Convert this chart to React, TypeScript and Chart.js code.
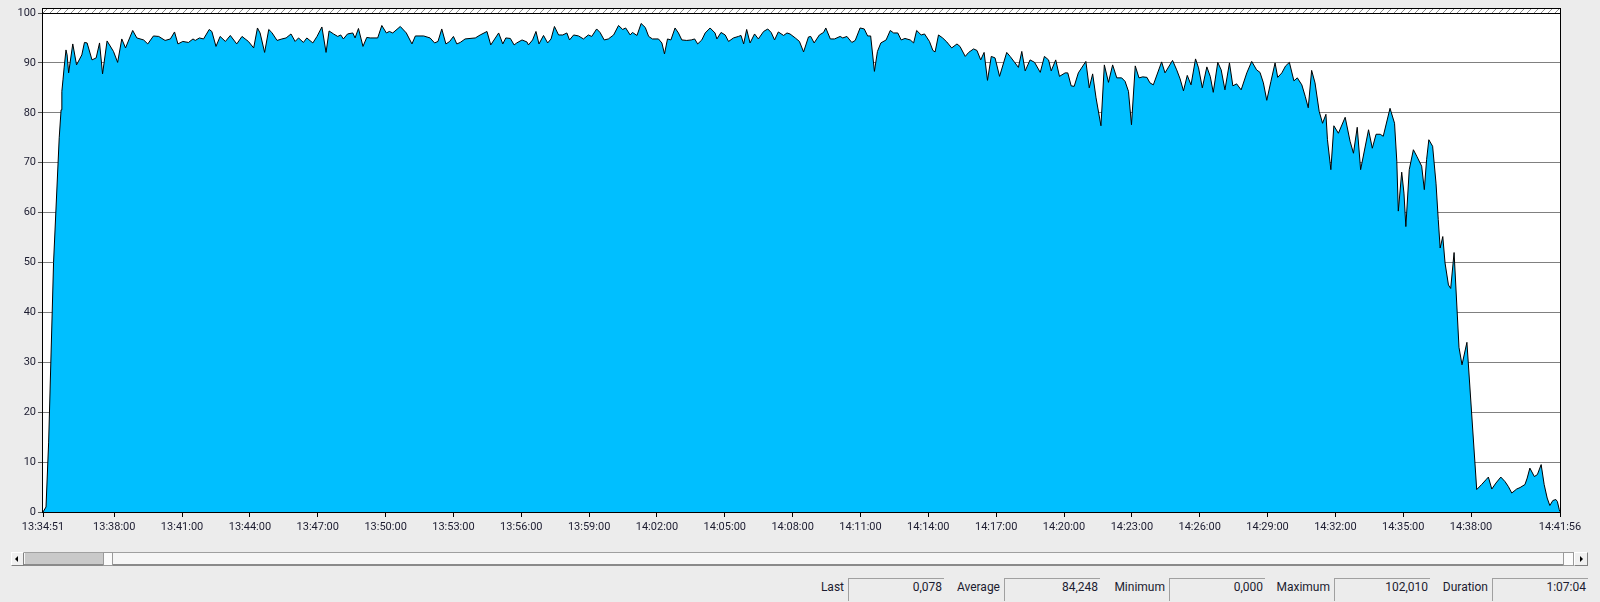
import React, { useEffect, useRef } from "react";
import { Chart, registerables } from "chart.js";

Chart.register(...registerables);

// ---- data -------------------------------------------------------------
const START_CLOCK_SECONDS = 13 * 3600 + 34 * 60 + 51; // 13:34:51
const END_OFFSET = 4025; // 14:41:56

// seconds since 13:34:51
const sampleSeconds = [
  0, 8, 15, 28, 43, 48, 50, 53, 56, 61, 64, 68, 79, 89, 103, 110, 117, 130, 141, 150, 158, 170, 187, 198, 209, 219,
  238, 249, 267, 278, 293, 307, 324, 338, 349, 358, 371, 386, 398, 404, 415, 426, 441, 448, 459, 470, 484, 497, 514,
  528, 545, 559, 569, 576, 588, 599, 607, 621, 634, 645, 658, 669, 678, 691, 700, 716, 727, 740, 751, 759, 771, 782,
  790, 797, 808, 822, 828, 837, 849, 859, 868, 888, 899, 911, 919, 928, 948, 964, 979,
  988, 1010, 1027, 1039, 1048, 1058, 1069, 1079, 1089, 1098, 1107, 1120, 1133, 1147, 1160, 1178, 1188, 1209, 1220,
  1228, 1240, 1250, 1257, 1271, 1284, 1288, 1299, 1308, 1316, 1328, 1339, 1348, 1357, 1368, 1379, 1390, 1397, 1408,
  1421, 1434, 1447, 1456, 1469, 1478, 1489, 1500, 1514, 1527, 1538, 1546, 1558, 1564, 1576, 1587, 1598, 1607, 1617,
  1633, 1642, 1649, 1657, 1666, 1677, 1686, 1695, 1708, 1720, 1729, 1737, 1748, 1757, 1770, 1783, 1788, 1799, 1810,
  1819, 1832, 1845, 1852, 1859, 1867, 1876, 1888, 1898, 1912, 1923, 1932, 1941, 1951, 1965, 1974,
  1982, 1996, 2007, 2018, 2031, 2037, 2046, 2060, 2071, 2077, 2089, 2100, 2115, 2122, 2133, 2146, 2155, 2168, 2179,
  2188, 2196, 2206, 2214, 2223, 2237, 2248, 2257, 2268, 2277, 2287, 2301, 2310, 2318, 2330, 2339, 2352, 2361, 2367,
  2376, 2387, 2398, 2411, 2425, 2433, 2447, 2456, 2469, 2478, 2488, 2497, 2506, 2516, 2526, 2538, 2557, 2566, 2579,
  2588, 2597, 2606, 2619, 2631, 2646, 2657, 2668, 2675, 2687, 2697, 2712, 2719, 2728, 2736, 2747, 2767, 2776, 2785,
  2794, 2807, 2816, 2827, 2838, 2849, 2862, 2871, 2880, 2888, 2898, 2908, 2918, 2929, 2937, 2946, 2968,
  2977, 2997, 3008, 3017, 3026, 3036, 3046, 3058, 3066, 3076, 3088, 3097, 3105, 3117, 3126, 3136, 3148, 3157, 3167,
  3179, 3194, 3207, 3220, 3229, 3238, 3247, 3258, 3269, 3276, 3287, 3297, 3307, 3319, 3328, 3340, 3349, 3357, 3366,
  3375, 3386, 3395, 3404, 3408, 3417,
  3425, 3437, 3455, 3468, 3477, 3487, 3496, 3517, 3527, 3537, 3548, 3556, 3574, 3586, 3592, 3596, 3605, 3611, 3616,
  3625, 3636, 3645, 3658, 3665, 3671, 3677, 3687, 3696, 3702, 3707, 3714, 3720, 3729,
  3735, 3744, 3757, 3765, 3778, 3804,
  3817, 3829, 3835, 3844, 3855, 3868, 3879, 3888, 3897, 3910, 3919, 3932, 3938, 3945, 3957, 3965, 3975, 3983, 3991,
  3998, 4006, 4014, 4018, 4023, 4025,
];

// % value of each sample
const cpuValues = [
  0, 1, 14, 50, 75, 80.6, 84.3, 86.6, 89, 92.6, 91.6, 88, 93.8, 89.6, 91.6, 94.1, 94, 90.6, 91, 94, 87.8, 94.4, 92.3,
  90.1, 94.8, 93, 96.5, 95, 94.6, 93.8, 95.4, 95.3, 94.5, 94.8, 96.2, 93.8, 94.3, 94.1, 94.8, 94.5, 95, 94.8, 96.7,
  96.3, 93.3, 95.3, 94.3, 95.5, 93.8, 95.3, 94.3, 93, 97, 96, 92.1, 96.7, 96.1, 94.5, 94.8, 95, 95.8, 94.3, 95, 94.1,
  95, 94, 95.3, 97.2, 92.1, 96.4, 95.8, 95.3, 95.6, 94.8, 95.8, 96, 95, 96.9, 93.3, 95.1, 95, 95, 97.5, 96, 96.3, 96,
  97.3, 96, 93.8,
  95.4, 95.4, 95, 94, 94.3, 96.8, 93.8, 94.3, 95.3, 93.8, 94.1, 94.8, 94.9, 95, 95.6, 96.3, 93.6, 96, 93.8, 95, 94.9,
  93.6, 94, 94.6, 94.2, 93.6, 94.6, 96.3, 93.8, 95.5, 94, 94.8, 97.3, 95.6, 95.6, 96, 94.6, 95.6, 95.4, 94.8, 95.6,
  95.3, 96.8, 96.1, 94.6, 94.8, 95.6, 97.5, 96.7, 97, 95.6, 96.1, 95.5, 97.9, 97.1, 95.3, 94.8, 94.8, 94, 91.8, 94.8,
  94.6, 97, 96, 94.6, 94.5, 94.6, 94.8, 93.8, 94.6, 96, 97, 96, 94.8, 96.1, 95.6, 94.3, 95, 95.3, 95.5, 93.8, 96.7,
  94, 95.8, 94.8, 96.3, 96.8, 96.1, 94.6, 96.2, 95.5, 96,
  95.8, 95, 94.3, 92.2, 95.2, 95.3, 94, 95.6, 96.1, 97, 94.8, 94.8, 95.3, 95, 95.3, 94.1, 94.5, 97, 96.8, 95.4, 95.4,
  88.3, 92.3, 94, 94.6, 96.5, 96, 96, 94.6, 94.9, 94.6, 94, 96.5, 95.6, 95.8, 94.3, 92.5, 92.2, 95.6, 95, 94.2, 93,
  93.8, 93.3, 91.3, 92.1, 92.8, 92.5, 90.6, 92.1, 86.5, 91.3, 91, 87.3, 92.1, 91.3, 90, 89.1, 92.3, 88.4, 90.6, 90.1,
  88.1, 91.3, 90.6, 88.4, 90.6, 87.3, 88, 88, 85.4, 85.3, 88, 90.3, 85, 87.8, 83, 77.4, 89.6, 86.1, 89.6, 87, 87,
  86.3, 84.3, 77.6, 89.4, 87, 87.2, 87.1, 86, 85.6, 90.2,
  88, 90.5, 88.6, 86.8, 84.4, 87.5, 85.6, 90.8, 89, 85, 89.2, 87.3, 84.1, 90.1, 88.6, 84.6, 90, 85.4, 85.8, 84.6, 88,
  90.3, 88.6, 88.1, 86, 82.5, 86.3, 90, 87.1, 88, 89.4, 90.1, 86.4, 87, 85.6, 83.3, 81, 88.5, 86, 80.3, 77.9, 79.7,
  74.6, 68.6,
  77.4, 75.9, 79.1, 74.3, 71.9, 77.1, 68.6, 76.6, 72.9, 75.7, 75.7, 75.3, 80.9, 77.9, 70.3, 60.3, 68.1, 63.9, 57.2,
  68.6, 72.6, 71.3, 69.3, 64.6, 70.6, 74.6, 73.3, 65.9, 58.6, 52.9, 55.2, 49.9, 45.5,
  44.8, 52, 33, 29.5, 34, 4.5,
  5.5, 6.5, 7, 4.6, 5.8, 7, 6.1, 5.1, 3.8, 4.6, 4.9, 5.5, 6.8, 8.8, 7.1, 7.5, 9.5, 5.5, 2.8, 1.3, 2.3, 2.5, 2.1, 0.5,
  0.078,
];

// tick positions (seconds since start): start, every 3 min 13:38 .. 14:38, end
const xTickSeconds = [
  0, 189, 369, 549, 729, 909, 1089, 1269, 1449, 1629, 1809, 1989, 2169, 2349, 2529, 2709, 2889, 3069, 3249, 3429,
  3609, 3789, END_OFFSET,
];

const statLabels = ["Last", "Average", "Minimum", "Maximum", "Duration"];
const statValues = ["0,078", "84,248", "0,000", "102,010", "1:07:04"];
const statBoxLeft = [848, 1004, 1169, 1334, 1492];
const STAT_BOX_WIDTH = 96;

// ---- helpers ----------------------------------------------------------
const pad2 = (n: number) => String(n).padStart(2, "0");
const clockLabel = (offset: number) => {
  const s = Math.round(START_CLOCK_SECONDS + offset);
  const h = Math.floor(s / 3600);
  const m = Math.floor((s % 3600) / 60);
  const sec = s % 60;
  return `${pad2(h)}:${pad2(m)}:${pad2(sec)}`;
};

const FONT = "Roboto, 'Segoe UI', 'Noto Sans', sans-serif";
const TEXT_COLOR = "#1c1c30";

const framePlugin = {
  id: "perfmonFrame",
  beforeDraw(chart: any) {
    const { ctx, chartArea } = chart;
    const { left, top, right, bottom } = chartArea;
    ctx.save();
    ctx.fillStyle = "#ffffff";
    ctx.fillRect(left, top - 5, right - left, bottom - top + 5);
    // hatched band above plot
    ctx.beginPath();
    ctx.rect(left, top - 5, right - left, 5);
    ctx.clip();
    ctx.beginPath();
    ctx.strokeStyle = "#8c8c8c";
    ctx.lineWidth = 1;
    for (let x = left; x < right + 10; x += 7) {
      ctx.moveTo(x, top);
      ctx.lineTo(x + 5, top - 5);
    }
    ctx.stroke();
    ctx.restore();
  },
  afterDraw(chart: any) {
    const { ctx, chartArea } = chart;
    const { left, top, right, bottom } = chartArea;
    ctx.save();
    ctx.strokeStyle = "#000000";
    ctx.lineWidth = 1;
    const l = left - 0.5;
    const r = right + 0.5;
    const t = top - 4.5;
    const b = bottom + 0.5;
    ctx.strokeRect(l, t, r - l, b - t);
    ctx.beginPath();
    ctx.moveTo(l, top + 0.5);
    ctx.lineTo(r, top + 0.5);
    ctx.stroke();
    ctx.restore();
  },
};

export default function App() {
  const canvasRef = useRef<HTMLCanvasElement | null>(null);

  useEffect(() => {
    if (!canvasRef.current) return;
    const points = sampleSeconds.map((t, i) => ({ x: t, y: cpuValues[i] }));
    const chart = new Chart(canvasRef.current, {
      type: "line",
      data: {
        datasets: [
          {
            data: points,
            borderColor: "#000000",
            borderWidth: 1,
            backgroundColor: "#00bfff",
            fill: "origin",
            pointRadius: 0,
            tension: 0,
          },
        ],
      },
      options: {
        responsive: false,
        maintainAspectRatio: false,
        animation: false,
        devicePixelRatio: 1,
        layout: { padding: { top: 13, right: 40, bottom: 18, left: 0 } },
        plugins: {
          legend: { display: false },
          tooltip: { enabled: false },
        },
        scales: {
          x: {
            type: "linear",
            min: 0,
            max: END_OFFSET,
            afterBuildTicks: (scale: any) => {
              scale.ticks = xTickSeconds.map((v) => ({ value: v }));
            },
            afterFit: (scale: any) => {
              scale.height = 30;
              scale.paddingLeft = 0;
              scale.paddingRight = 0;
            },
            grid: {
              drawOnChartArea: false,
              drawTicks: true,
              tickLength: 5,
              color: "#000000",
              tickColor: "#000000",
            },
            border: { display: false },
            ticks: {
              autoSkip: false,
              maxRotation: 0,
              minRotation: 0,
              padding: 4,
              color: TEXT_COLOR,
              font: { family: FONT, size: 11 },
              callback: (v: any) => clockLabel(Number(v)),
            },
          },
          y: {
            min: 0,
            max: 100,
            afterFit: (scale: any) => {
              scale.width = 43;
              scale.paddingTop = 0;
              scale.paddingBottom = 0;
            },
            grid: {
              color: "#808080",
              lineWidth: 1,
              tickLength: 5,
              tickColor: "#555555",
            },
            border: { display: false },
            ticks: {
              stepSize: 10,
              padding: 2,
              color: TEXT_COLOR,
              font: { family: FONT, size: 11 },
            },
          },
        },
      },
      plugins: [framePlugin],
    });
    return () => chart.destroy();
  }, []);

  const abs = (s: React.CSSProperties): React.CSSProperties => ({ position: "absolute", ...s });

  return (
    <div
      style={{
        position: "fixed",
        left: 0,
        top: 0,
        width: 1600,
        height: 602,
        background: "#ececec",
        overflow: "hidden",
        fontFamily: FONT,
      }}
    >
      <canvas ref={canvasRef} width={1600} height={560} style={abs({ left: 0, top: 0, width: 1600, height: 560 })} />

      {/* time range scrollbar */}
      <div
        style={abs({
          left: 11,
          top: 552,
          width: 11,
          height: 12,
          background: "#f0f0f0",
          borderTop: "1px solid #ffffff",
          borderLeft: "1px solid #ffffff",
          borderRight: "1px solid #808080",
          borderBottom: "1px solid #808080",
        })}
      >
        <div
          style={abs({
            left: 3,
            top: 3,
            width: 0,
            height: 0,
            borderTop: "3px solid transparent",
            borderBottom: "3px solid transparent",
            borderRight: "3px solid #000",
          })}
        />
      </div>
      <div
        style={abs({
          left: 24,
          top: 552,
          width: 1550,
          height: 11,
          background: "#f6f6f6",
          borderTop: "1px solid #a0a0a0",
          borderBottom: "2px solid #8a8a8a",
        })}
      />
      <div style={abs({ left: 25, top: 553, width: 78, height: 11, background: "#c9c9c9" })} />
      <div
        style={abs({
          left: 103,
          top: 552,
          width: 8,
          height: 12,
          background: "#fbfbfb",
          border: "1px solid #9a9a9a",
        })}
      />
      <div
        style={abs({
          left: 1563,
          top: 552,
          width: 9,
          height: 12,
          background: "#fbfbfb",
          border: "1px solid #9a9a9a",
        })}
      />
      <div
        style={abs({
          left: 1574,
          top: 552,
          width: 12,
          height: 12,
          background: "#f0f0f0",
          borderTop: "1px solid #ffffff",
          borderLeft: "1px solid #ffffff",
          borderRight: "1px solid #808080",
          borderBottom: "1px solid #808080",
        })}
      >
        <div
          style={abs({
            left: 5,
            top: 3,
            width: 0,
            height: 0,
            borderTop: "3px solid transparent",
            borderBottom: "3px solid transparent",
            borderLeft: "3px solid #000",
          })}
        />
      </div>

      {/* statistics row */}
      {statLabels.map((label, i) => (
        <React.Fragment key={label}>
          <div
            style={abs({
              left: statBoxLeft[i] - 84,
              top: 579,
              width: 80,
              height: 18,
              lineHeight: "16px",
              textAlign: "right",
              fontSize: 12,
              color: TEXT_COLOR,
              whiteSpace: "nowrap",
            })}
          >
            {label}
          </div>
          <div
            style={abs({
              left: statBoxLeft[i],
              top: 578,
              width: STAT_BOX_WIDTH - 3,
              height: 22,
              borderTop: "1px solid #a0a0a0",
              borderLeft: "1px solid #a0a0a0",
              paddingRight: 2,
              lineHeight: "17px",
              textAlign: "right",
              fontSize: 12,
              color: TEXT_COLOR,
              whiteSpace: "nowrap",
            })}
          >
            {statValues[i]}
          </div>
        </React.Fragment>
      ))}
    </div>
  );
}
